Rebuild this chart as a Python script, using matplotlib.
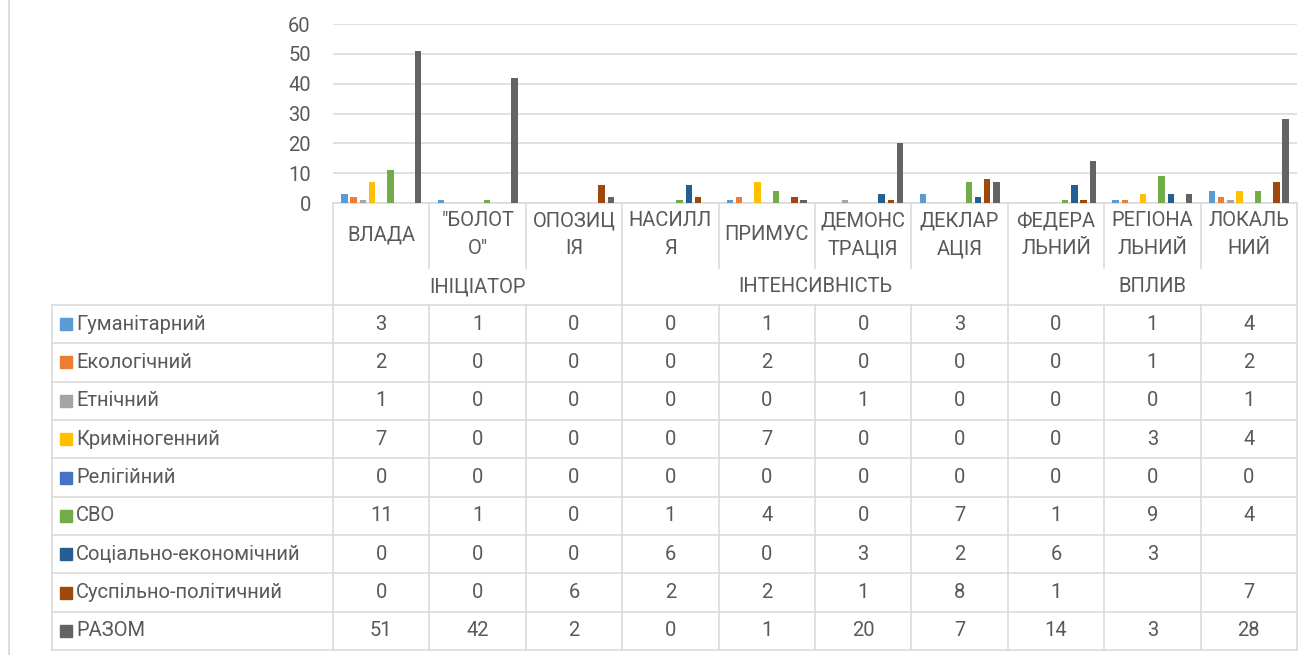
import numpy as np
import matplotlib
matplotlib.use("Agg")
import matplotlib.pyplot as plt
from matplotlib.transforms import blended_transform_factory
from matplotlib.patches import Rectangle
from matplotlib.lines import Line2D

plt.rcParams['font.family'] = ['Roboto', 'DejaVu Sans']

# ---------------- data ----------------
categories = ['ВЛАДА', '"БОЛОТ\nО"', 'ОПОЗИЦ\nІЯ', 'НАСИЛЛ\nЯ', 'ПРИМУС',
              'ДЕМОНС\nТРАЦІЯ', 'ДЕКЛАР\nАЦІЯ', 'ФЕДЕРА\nЛЬНИЙ', 'РЕГІОНА\nЛЬНИЙ', 'ЛОКАЛЬ\nНИЙ']
groups = ['ІНІЦІАТОР', 'ІНТЕНСИВНІСТЬ', 'ВПЛИВ']
group_sizes = [3, 4, 3]

series_names = ['Гуманітарний', 'Екологічний', 'Етнічний', 'Криміногенний', 'Релігійний',
                'СВО', 'Соціально-економічний', 'Суспільно-політичний', 'РАЗОМ']
colors = ['#5B9BD5', '#ED7D31', '#A5A5A5', '#FFC000', '#4472C4',
          '#70AD47', '#255E91', '#9E480E', '#636363']

humanitarian = [3, 1, 0, 0, 1, 0, 3, 0, 1, 4]
ecological   = [2, 0, 0, 0, 2, 0, 0, 0, 1, 2]
ethnic       = [1, 0, 0, 0, 0, 1, 0, 0, 0, 1]
criminogenic = [7, 0, 0, 0, 7, 0, 0, 0, 3, 4]
religious    = [0, 0, 0, 0, 0, 0, 0, 0, 0, 0]
svo          = [11, 1, 0, 1, 4, 0, 7, 1, 9, 4]
socio_econ   = [0, 0, 0, 6, 0, 3, 2, 6, 3, None]
socio_polit  = [0, 0, 6, 2, 2, 1, 8, 1, None, 7]
total        = [51, 42, 2, 0, 1, 20, 7, 14, 3, 28]

series = [humanitarian, ecological, ethnic, criminogenic, religious,
          svo, socio_econ, socio_polit, total]

yticks = [0, 10, 20, 30, 40, 50, 60]

# ---------------- layout ----------------
W, H = 1316, 655
TXT = '#595959'
GRID = '#D9D9D9'
FS = 14.5

fig = plt.figure(figsize=(W / 100, H / 100), dpi=100)
fig.patch.set_facecolor('white')

def fy(py):
    return 1 - py / H

def fx(px):
    return px / W

ax_left, ax_right, ax_zero, ax_top = 333, 1297, 203, 24
ax = fig.add_axes([fx(ax_left), fy(ax_zero), (ax_right - ax_left) / W, (ax_zero - ax_top) / H])

n_cat = len(categories)
n_ser = len(series)
x = np.arange(n_cat)
step = 0.0954
bw = 0.068
for i, (vals, col) in enumerate(zip(series, colors)):
    v = np.array([np.nan if a is None else a for a in vals], dtype=float)
    ax.bar(x + (i - (n_ser - 1) / 2) * step, v, width=bw, color=col, zorder=3)

ax.set_xlim(-0.5, n_cat - 0.5)
ax.set_ylim(0, 60)
ax.set_yticks(yticks)
ax.set_yticklabels([str(t) for t in yticks])
ax.tick_params(axis='y', length=0, pad=16, labelsize=FS, labelcolor=TXT)
ax.set_xticks([])
ax.grid(axis='y', color=GRID, linewidth=1.1, zorder=0)
for s in ['left', 'right', 'top']:
    ax.spines[s].set_visible(False)
ax.spines['bottom'].set_color(GRID)
ax.spines['bottom'].set_linewidth(1.1)
ax.set_facecolor('none')

# ---------------- data table ----------------
bt = blended_transform_factory(ax.transData, fig.transFigure)
lw = 1.1

tbl_top = 305
row_h = (650 - 305) / 9
tbl_left = 52
cat_row_bot = 268

def hline(y, x0, x1):
    fig.add_artist(Line2D([fx(x0), fx(x1)], [fy(y), fy(y)], color=GRID, lw=lw,
                          transform=fig.transFigure))

def vline_data(xd, y0, y1):
    fig.add_artist(Line2D([xd, xd], [fy(y0), fy(y1)], color=GRID, lw=lw, transform=bt))

# horizontal lines
for k in range(n_ser + 1):
    hline(tbl_top + k * row_h, tbl_left, ax_right)
# left table border
fig.add_artist(Line2D([fx(tbl_left)] * 2, [fy(tbl_top), fy(650)], color=GRID, lw=lw,
                      transform=fig.transFigure))
# group boundaries
bounds = np.cumsum([0] + group_sizes)
for b in bounds:
    vline_data(b - 0.5, ax_zero, 650)
# inner category boundaries
for i in range(1, n_cat):
    if i in bounds:
        continue
    vline_data(i - 0.5, ax_zero, cat_row_bot)
    vline_data(i - 0.5, tbl_top, 650)

# category labels
for i, c in enumerate(categories):
    fig.text(i, fy(235), c, transform=bt, ha='center', va='center',
             fontsize=FS, color=TXT, linespacing=1.6)

# group labels
for g, b0, b1 in zip(groups, bounds[:-1], bounds[1:]):
    fig.text((b0 + b1 - 1) / 2, fy(286.5), g, transform=bt, ha='center', va='center',
             fontsize=FS, color=TXT)

# rows
for r, (name, col, vals) in enumerate(zip(series_names, colors, series)):
    yc = tbl_top + (r + 0.5) * row_h
    fig.add_artist(Rectangle((fx(60), fy(yc + 6)), 12 / W, 12 / H, color=col,
                             transform=fig.transFigure))
    fig.text(fx(76), fy(yc), name, ha='left', va='center', fontsize=FS, color=TXT)
    for i, v in enumerate(vals):
        if v is None:
            continue
        fig.text(i, fy(yc), str(v), transform=bt, ha='center', va='center',
                 fontsize=FS, color=TXT)

# outer chart border on the left
fig.add_artist(Line2D([fx(8.5)] * 2, [0, 1], color=GRID, lw=1.3, transform=fig.transFigure))

fig.savefig('out.png', dpi=100, facecolor='white')
